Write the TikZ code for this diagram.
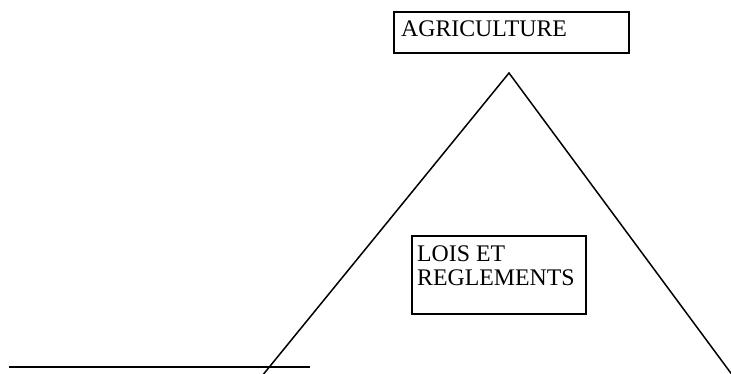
\documentclass[tikz,border=0pt]{standalone}
\usepackage{fontspec}
\setmainfont{Liberation Serif}
\begin{document}
\begin{tikzpicture}[x=1pt,y=-1pt,
  boxstyle/.style={draw=black, line width=2pt, rectangle, inner sep=0pt, anchor=north west},
  txt/.style={inner sep=0pt, align=left, font=\fontsize{23.8}{23.3}\selectfont},
  edge/.style={line width=1.5pt, black}]
\useasboundingbox (0,0) rectangle (731,374);
% boxes
\node[boxstyle, minimum width=235pt, minimum height=41pt] (agri) at (393,11) {};
\node[txt, anchor=base west] (agritext) at (401,37) {AGRICULTURE};
\node[boxstyle, minimum width=174pt, minimum height=78pt] (lois) at (411,235) {};
\node[txt, anchor=base west] (loistext) at (417,285) {LOIS ET\\REGLEMENTS};
% triangle
\coordinate (apex) at (509,73);
\coordinate (leftfoot) at (262,376);
\coordinate (rightfoot) at (733,376);
\draw[edge] (leftfoot) -- (apex) -- (rightfoot);
% ground line
\coordinate (ga) at (9,367);
\coordinate (gb) at (310,367);
\draw[line width=2.3pt] (ga) -- (gb);
\end{tikzpicture}
\end{document}
